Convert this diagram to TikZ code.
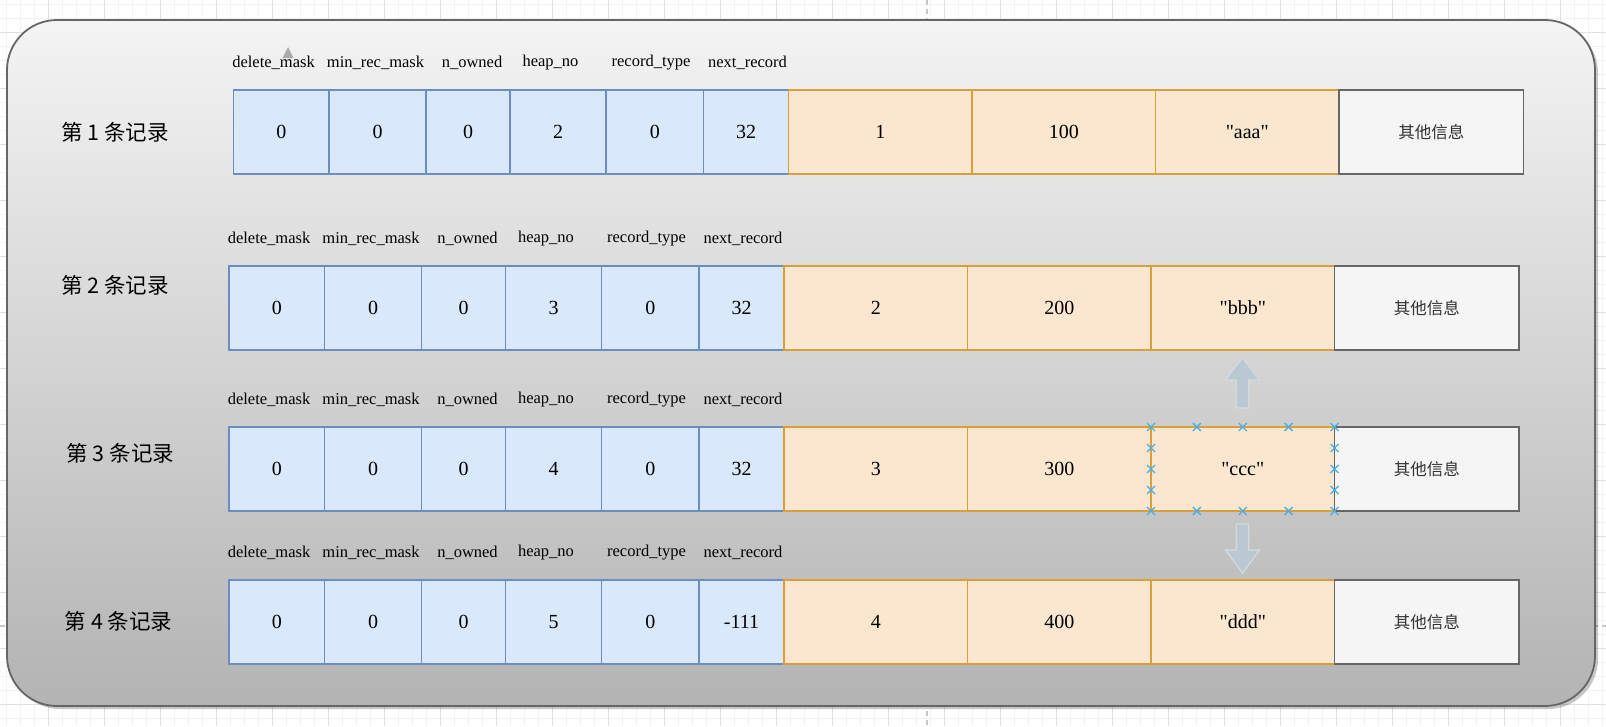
\documentclass[tikz,border=0pt]{standalone}
\usepackage{fontspec}
\setmainfont{Liberation Serif}[Ligatures=TeXOff]
\newfontfamily\cjk{Noto Sans CJK SC}
\usetikzlibrary{calc,shapes.misc}
\definecolor{blueF}{HTML}{DAE8FC}
\definecolor{blueS}{HTML}{6C8EBF}
\definecolor{orF}{HTML}{FBE6CF}
\definecolor{orS}{HTML}{D8A03A}
\definecolor{grF}{HTML}{F5F5F5}
\definecolor{grS}{HTML}{666666}
\definecolor{frameTop}{HTML}{F4F4F4}
\definecolor{frameBot}{HTML}{B3B3B3}
\definecolor{gridMinor}{HTML}{F2F2F2}
\definecolor{gridMajor}{HTML}{E0E0E0}
\definecolor{arrF}{HTML}{BAC8D2}
\definecolor{arrS}{HTML}{D3DBE0}
\definecolor{markB}{HTML}{4AAEE8}
\definecolor{txtGray}{HTML}{333333}
\tikzset{
  cellbase/.style={anchor=north west, outer sep=0pt, inner sep=0pt, minimum height=84, font=\fontsize{20}{24}\selectfont, text=black},
  cellb/.style={cellbase, fill=blueF},
  cello/.style={cellbase, fill=orF},
  cellg/.style={cellbase, fill=grF, text=txtGray, font=\cjk\fontsize{16.5}{20}\selectfont},
  edgeb/.style={draw=blueS, line width=1.5pt},
  edgeo/.style={draw=orS, line width=1.5pt},
  edgeg/.style={draw=grS, line width=1.5pt},
  hdr/.style={inner sep=0pt, font=\fontsize{16.5}{20}\selectfont, text=black},
  lbl/.style={inner sep=0pt, font=\cjk\fontsize{21.5}{26}\selectfont, text=black},
  xmark/.style={cross out, draw=markB, line width=1.3pt, minimum size=8pt, inner sep=0pt, outer sep=0pt},
  blockarrow/.style={fill=arrF, draw=arrS, line width=1.2pt, line join=miter},
}
\newcommand\recrow[9]{%
  % #1 id, #2 x0, #3 y0, #4 heap_no, #5 next_record, #6 key, #7 value, #8 string, #9 label position
  \node[cellb, minimum width=95.5] (r#1c1) at (#2,#3) {0};
  \node[cellb, minimum width=97]   (r#1c2) at (#2+95.5,#3) {0};
  \node[cellb, minimum width=84]   (r#1c3) at (#2+192.5,#3) {0};
  \node[cellb, minimum width=96]   (r#1c4) at (#2+276.5,#3) {#4};
  \node[cellb, minimum width=97.5] (r#1c5) at (#2+372.5,#3) {0};
  \node[cellb, minimum width=85]   (r#1c6) at (#2+470,#3) {#5};
  \node[cello, minimum width=183.5] (r#1c7) at (#2+555,#3) {#6};
  \node[cello, minimum width=183.5] (r#1c8) at (#2+738.5,#3) {#7};
  \node[cello, minimum width=183.5] (r#1c9) at (#2+922,#3) {"#8"};
  \node[cellg, minimum width=184.5] (r#1c10) at (#2+1105.5,#3) {其他信息};
  \foreach \c in {1,...,6} \draw[edgeb] (r#1c\c.north west) rectangle (r#1c\c.south east);
  \foreach \c in {7,8,9} \draw[edgeo] (r#1c\c.north west) rectangle (r#1c\c.south east);
  \draw[edgeg] (r#1c10.north west) rectangle (r#1c10.south east);
  \node[hdr] (r#1h1) at (#2+40,#3-27) {delete\_mask};
  \node[hdr] (r#1h2) at (#2+142,#3-27) {min\_rec\_mask};
  \node[hdr] (r#1h3) at (#2+238.5,#3-27) {n\_owned};
  \node[hdr] (r#1h4) at (#2+317,#3-27) {heap\_no};
  \node[hdr] (r#1h5) at (#2+417.5,#3-27) {record\_type};
  \node[hdr] (r#1h6) at (#2+514,#3-27) {next\_record};
  \node[lbl] (r#1lab) at (#9) {第 #1 条记录};
}
\begin{document}
\begin{tikzpicture}[x=1pt,y=-1pt]
\useasboundingbox (0,0) rectangle (1606,726);
\fill[white] (0,0) rectangle (1606,726);
% canvas grid
\begin{scope}[line width=0.7pt]
  \foreach \k in {0,...,114} \draw[gridMinor] (6+14*\k,0) -- (6+14*\k,726);
  \foreach \k in {0,...,51} \draw[gridMinor] (0,4+14*\k) -- (1606,4+14*\k);
  \foreach \k in {0,...,27} \draw[gridMajor] (48+56*\k,0) -- (48+56*\k,726);
  \foreach \k in {0,...,12} \draw[gridMajor] (0,32+56*\k) -- (1606,32+56*\k);
\end{scope}
% page break lines
\draw[gray!45, line width=1.5pt, dash pattern=on 5pt off 4pt] (927,0) -- (927,726);
\draw[gray!45, line width=1.5pt, dash pattern=on 5pt off 4pt] (0,626) -- (1606,626);
% frame with shadow
\fill[black, opacity=0.22, rounded corners=50pt] (10,23) rectangle (1598,709);
\shade[top color=frameTop, bottom color=frameBot, rounded corners=50pt] (7,20) rectangle (1595,706);
\draw[grS, line width=1.8pt, rounded corners=50pt] (7,20) rectangle (1595,706);
% records
\recrow{1}{233.5}{90}{2}{32}{1}{100}{aaa}{115,132}
\recrow{2}{229}{266}{3}{32}{2}{200}{bbb}{115,285}
\recrow{3}{229}{427}{4}{32}{3}{300}{ccc}{120.4,453}
\recrow{4}{229}{580}{5}{-111}{4}{400}{ddd}{118.6,621.7}
% hover hint triangle
\fill[gray!65] (288,47) -- (293.5,58) -- (282.5,58) -- cycle;
% move arrows
\draw[blockarrow] (1236.25,408) -- (1236.25,380) -- (1225.5,380) -- (1242.5,358) -- (1259.5,380) -- (1248.75,380) -- (1248.75,408) -- cycle;
\draw[blockarrow] (1236.25,524) -- (1236.25,550) -- (1225.5,550) -- (1242.5,573) -- (1259.5,550) -- (1248.75,550) -- (1248.75,524) -- cycle;
% selection markers on "ccc"
\foreach \f in {0,0.25,0.5,0.75,1} {
  \node[xmark] at ($(r3c9.north west)!\f!(r3c9.north east)$) {};
  \node[xmark] at ($(r3c9.south west)!\f!(r3c9.south east)$) {};
}
\foreach \f in {0.25,0.5,0.75} {
  \node[xmark] at ($(r3c9.north west)!\f!(r3c9.south west)$) {};
  \node[xmark] at ($(r3c9.north east)!\f!(r3c9.south east)$) {};
}
\end{tikzpicture}
\end{document}
